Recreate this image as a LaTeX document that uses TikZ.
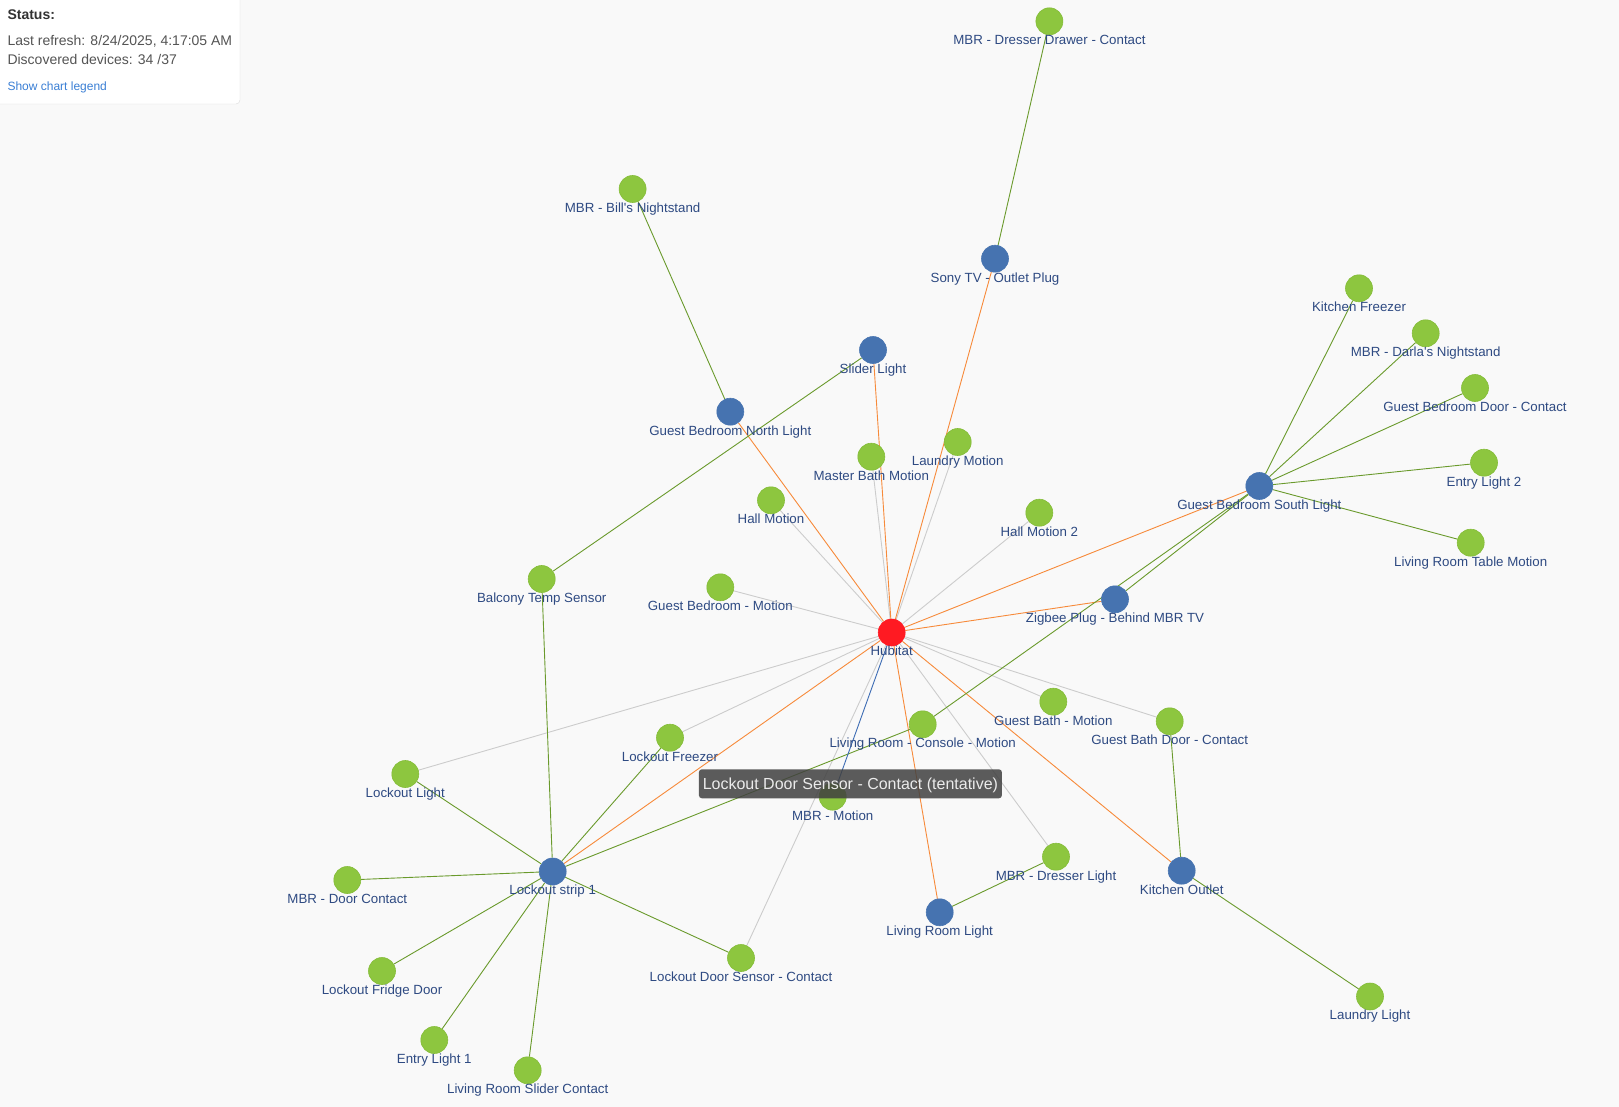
\documentclass[tikz,border=0pt]{standalone}
\usepackage{fontspec}
\setmainfont{Liberation Sans}
\usetikzlibrary{backgrounds}
\definecolor{bgc}{HTML}{F9F9F9}
\definecolor{leaf}{HTML}{8DC63F}
\definecolor{leafline}{HTML}{84BC38}
\definecolor{router}{HTML}{4673B0}
\definecolor{hubred}{HTML}{FF1A22}
\definecolor{labblue}{HTML}{2E4A82}
\definecolor{meshgreen}{HTML}{6A9A2C}
\definecolor{hubline}{HTML}{F78A3A}
\definecolor{directline}{HTML}{CCCCCC}
\definecolor{selline}{HTML}{3D6CB4}
\definecolor{tipgray}{HTML}{404040}
\tikzstyle{ev}=[shape=circle,
                fill=leaf,
                draw=leafline,
                line width=0.6pt,
                minimum size=27pt,
                inner sep=0pt]
\tikzstyle{rv}=[shape=circle,
                fill=router,
                draw=router,
                line width=0.6pt,
                minimum size=27pt,
                inner sep=0pt]
\tikzstyle{hv}=[shape=circle,
                fill=hubred,
                draw=hubred,
                line width=0.6pt,
                minimum size=27pt,
                inner sep=0pt]
\tikzstyle{lab}=[text=labblue,
                 font=\fontsize{13.3}{16}\selectfont,
                 inner sep=0pt,
                 text height=10pt,
                 text depth=3pt]
\tikzstyle{gl}=[meshgreen,line width=0.9pt]
\tikzstyle{ol}=[hubline,line width=0.9pt]
\tikzstyle{dl}=[directline,line width=0.9pt]
\tikzstyle{bl}=[selline,line width=0.9pt]
\tikzstyle{stat}=[anchor=base west,inner sep=0pt,text=black!67,
                  font=\fontsize{14}{16}\selectfont]

\begin{document}
\begin{tikzpicture}[x=1pt,y=-1pt,label position=below,
                    every label/.style=lab,label distance=-0.6pt]
\useasboundingbox (0,0) rectangle (1619,1107);

% status panel
\draw[fill=white,draw=black!14,rounded corners=4pt] (-10,-10) rectangle (240,104);
\node[stat,text=black!80,font=\fontsize{14}{16}\selectfont\bfseries] (status) at (7.3,20) {Status:};
\node[stat] (refresh) at (7.3,46) {Last refresh: 8/24/2025, 4:17:05 AM};
\node[stat] (found) at (7.3,65) {Discovered devices: 34 /37};
\node[stat,text={rgb,255:red,58;green,127;blue,213},font=\fontsize{12}{14}\selectfont] (legend) at (7.3,91) {Show chart legend};

% hub
\node[hv,label=Hubitat] (hub) at (891.7,632.5) {};

% routers (blue)
\node[rv,label=Sony TV - Outlet Plug] (sonytv) at (995,258.7) {};
\node[rv,label=Slider Light] (slider) at (873,350) {};
\node[rv,label=Guest Bedroom North Light] (gbnorth) at (730.3,411.7) {};
\node[rv,label=Guest Bedroom South Light] (gbsouth) at (1259.3,486) {};
\node[rv,label=Zigbee Plug - Behind MBR TV] (zigbee) at (1115,599.3) {};
\node[rv,label=Lockout strip 1] (strip) at (552.7,871.5) {};
\node[rv,label=Kitchen Outlet] (koutlet) at (1181.7,870.7) {};
\node[rv,label=Living Room Light] (lrlight) at (939.7,912.3) {};

% end devices (green)
\node[ev,label=MBR - Dresser Drawer - Contact] (drawer) at (1049.4,21.3) {};
\node[ev,label={MBR - Bill\textquotesingle s Nightstand}] (bills) at (632.6,189) {};
\node[ev,label=Master Bath Motion] (mbath) at (871.3,456.7) {};
\node[ev,label=Laundry Motion] (lmotion) at (957.7,442) {};
\node[ev,label=Hall Motion] (hmotion) at (771,500.3) {};
\node[ev,label=Hall Motion 2] (hmotiontwo) at (1039.3,512.7) {};
\node[ev,label=Guest Bedroom - Motion] (gbmotion) at (720.3,587.3) {};
\node[ev,label=Balcony Temp Sensor] (balcony) at (541.7,579) {};
\node[ev,label=Kitchen Freezer] (kfreezer) at (1359,288.3) {};
\node[ev,label={MBR - Darla\textquotesingle s Nightstand}] (darla) at (1425.7,333.3) {};
\node[ev,label=Guest Bedroom Door - Contact] (gbdoor) at (1475,388) {};
\node[ev,label=Entry Light 2] (entrytwo) at (1484,462.7) {};
\node[ev,label=Living Room Table Motion] (lrtable) at (1470.7,542.7) {};
\node[ev,label=Guest Bath - Motion] (gbath) at (1053.3,701.7) {};
\node[ev,label=Guest Bath Door - Contact] (gbathdoor) at (1169.7,721.3) {};
\node[ev,label=Living Room - Console - Motion] (console) at (922.7,724.3) {};
\node[ev,label=Lockout Freezer] (lfreezer) at (670,737.7) {};
\node[ev,label=Lockout Light] (llight) at (405.3,774) {};
\node[ev,label=MBR - Motion] (mbrmotion) at (832.7,796.7) {};
\node[ev,label=MBR - Door Contact] (mbrdoor) at (347.3,880) {};
\node[ev,label=MBR - Dresser Light] (dlight) at (1056,856.7) {};
\node[ev,label=Lockout Door Sensor - Contact] (ldoor) at (741,958) {};
\node[ev,label=Lockout Fridge Door] (fridge) at (382,971) {};
\node[ev,label=Laundry Light] (laundry) at (1370,996.5) {};
\node[ev,label=Entry Light 1] (entryone) at (434.3,1040) {};
\node[ev,label=Living Room Slider Contact] (slcontact) at (527.7,1070.3) {};

% links, under the nodes
\begin{pgfonlayer}{background}
\fill[bgc] (0,0) rectangle (1619,1107);
% hub to end devices
\path[dl] (hub) edge (mbath)
          (hub) edge (lmotion)
          (hub) edge (hmotion)
          (hub) edge (hmotiontwo)
          (hub) edge (gbmotion)
          (hub) edge (llight)
          (hub) edge (lfreezer)
          (hub) edge (ldoor)
          (hub) edge (dlight)
          (hub) edge (gbath)
          (hub) edge (gbathdoor);
% hub to routers
\path[ol] (hub) edge (sonytv)
          (hub) edge (slider)
          (hub) edge (gbnorth)
          (hub) edge (gbsouth)
          (hub) edge (zigbee)
          (hub) edge (strip)
          (hub) edge (lrlight)
          (hub) edge (koutlet);
% mesh links
\path[gl] (drawer) edge (sonytv)
          (bills) edge (gbnorth)
          (slider) edge (balcony)
          (balcony) edge (strip)
          (gbsouth) edge (kfreezer)
          (gbsouth) edge (darla)
          (gbsouth) edge (gbdoor)
          (gbsouth) edge (entrytwo)
          (gbsouth) edge (lrtable)
          (gbsouth) edge (zigbee)
          (gbsouth) edge (console)
          (console) edge (strip)
          (strip) edge (lfreezer)
          (strip) edge (llight)
          (strip) edge (mbrdoor)
          (strip) edge (fridge)
          (strip) edge (entryone)
          (strip) edge (slcontact)
          (strip) edge (ldoor)
          (gbathdoor) edge (koutlet)
          (koutlet) edge (laundry)
          (dlight) edge (lrlight);
% selected link
\path[bl] (hub) edge (mbrmotion);
\end{pgfonlayer}

% tooltip
\node[fill=tipgray,fill opacity=0.85,text opacity=1,text=black!8,
      rounded corners=3pt,minimum width=303pt,minimum height=29pt,
      inner sep=0pt,text height=11.5pt,text depth=0.5pt,
      font=\fontsize{16}{18}\selectfont] (tooltip) at (850.4,783.8)
      {Lockout Door Sensor - Contact (tentative)};

\end{tikzpicture}
\end{document}
